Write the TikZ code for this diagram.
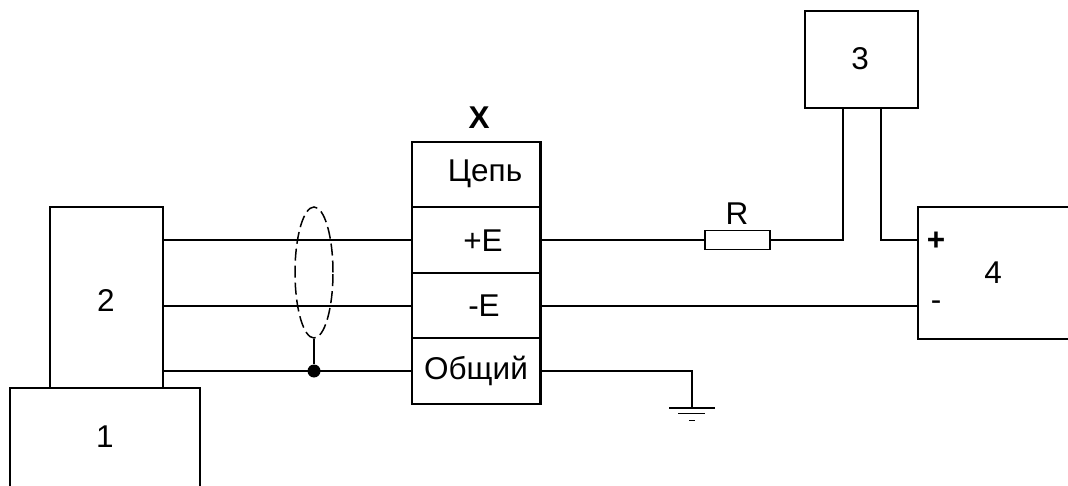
\documentclass[tikz,border=0pt]{standalone}
\usepackage{fontspec}
\setmainfont{Liberation Sans}
\usetikzlibrary{shapes.geometric}
\tikzset{
    wire/.style={line width=1.5pt},
    unit/.style={draw, line width=1.5pt, rectangle, inner sep=0pt},
    row/.style={unit, minimum width=128pt},
    lbl/.style={font=\fontsize{31.5}{36}\selectfont, inner sep=0pt},
    pin/.style={font=\fontsize{31.5}{36}\selectfont\bfseries, inner sep=0pt}
}
\begin{document}
\begin{tikzpicture}[x=1pt, y=-1pt]
    \useasboundingbox (0, 0) rectangle (1068, 486);
    \clip (0, 0) rectangle (1068, 486);

    \node[unit, minimum width=190pt, minimum height=128pt] (boxone) at (105, 452) {};
    \node[unit, minimum width=113pt, minimum height=181pt] (boxtwo) at (106.5, 297.5) {};
    \node[unit, minimum width=113pt, minimum height=97pt] (boxthree) at (861.5, 59.5) {};
    \node[unit, minimum width=172pt, minimum height=132pt] (boxfour) at (1004, 273) {};

    \node[lbl] (numone) at (105, 437) {1};
    \node[lbl] (numtwo) at (106, 301) {2};
    \node[lbl] (numthree) at (860, 59) {3};
    \node[lbl] (numfour) at (993, 273) {4};

    \node[row, minimum height=65pt] (rowhead) at (476, 174.5) {};
    \node[row, minimum height=66pt] (rowplus) at (476, 240) {};
    \node[row, minimum height=65pt] (rowminus) at (476, 306) {};
    \node[row, minimum height=66pt] (rowcommon) at (476, 371) {};
    \draw[line width=2.5pt] (rowhead.north east) -- (rowcommon.south east);

    \node[pin] (blockname) at (479, 118) {X};
    \node[lbl] (txthead) at (485, 174) {Цепь};
    \node[lbl] (txtplus) at (483, 241) {+E};
    \node[lbl] (txtminus) at (484, 306) {-E};
    \node[lbl] (txtcommon) at (476, 371) {Общий};

    \node[unit, minimum width=65pt, minimum height=19pt] (res) at (737.5, 240) {};
    \node[lbl] (reslabel) at (737, 214) {R};

    \node[pin] (plus) at (936, 241) {+};
    \node[lbl] (minus) at (936, 306) {-};

    \coordinate (tapa) at (843, 108);
    \coordinate (tapb) at (881, 108);
    \coordinate (plusin) at (918, 240);
    \coordinate (gnd) at (692, 408);

    \draw[wire] (boxtwo.east |- rowplus.west) -- (rowplus.west);
    \draw[wire] (boxtwo.east |- rowminus.west) -- (rowminus.west);
    \draw[wire] (boxtwo.east |- rowcommon.west) -- (rowcommon.west);

    \node[draw, ellipse, dashed, dash pattern=on 12pt off 5pt, line width=1.5pt, inner sep=0pt,
        minimum width=38pt, minimum height=131pt] (shield) at (314, 272.5) {};
    \node[circle, fill, inner sep=0pt, minimum size=13pt] (dot) at (314, 371) {};
    \draw[wire] (shield.south) -- (dot);

    \draw[wire] (rowplus.east) -- (res.west);
    \draw[wire] (res.east) -| (tapa);
    \draw[wire] (tapb) |- (plusin);
    \draw[wire] (rowminus.east) -- (rowminus.east -| boxfour.west);
    \draw[wire] (rowcommon.east) -| (gnd);

    \draw[wire] (669, 408) -- (715, 408);
    \draw[wire] (678, 413.5) -- (705, 413.5);
    \draw[wire] (689, 420.5) -- (695, 420.5);
\end{tikzpicture}
\end{document}
